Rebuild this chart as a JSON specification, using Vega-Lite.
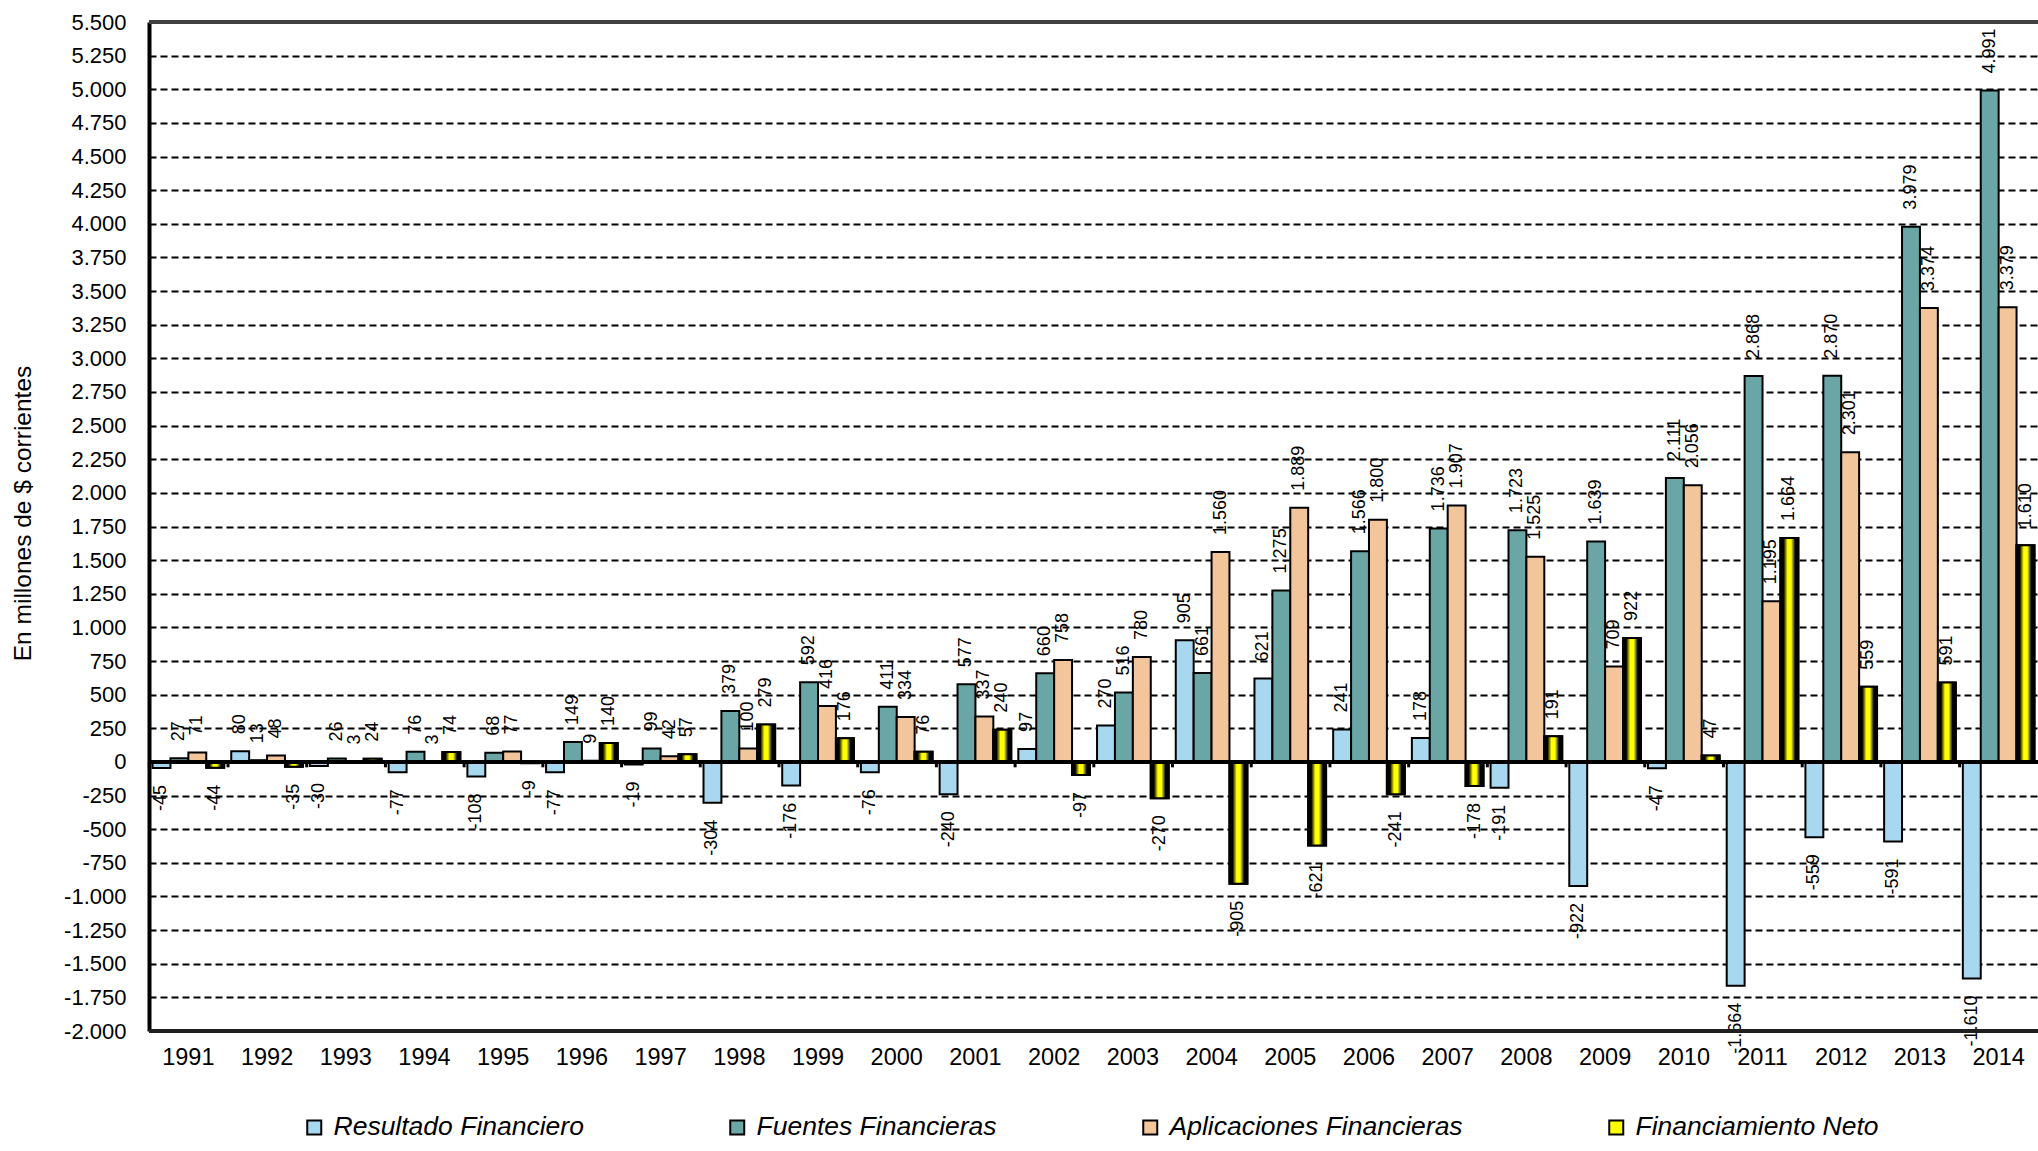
{
  "$schema": "https://vega.github.io/schema/vega-lite/v6.json",
  "width": 1889,
  "height": 1009,
  "autosize": {"type": "none"},
  "padding": {"left": 149, "top": 22, "right": 0, "bottom": 120},
  "background": "white",
  "config": {
    "locale": {"number": {"decimal": ",", "thousands": ".", "grouping": [3], "currency": ["$", ""], "minus": "-"}},
    "font": "Liberation Sans",
    "view": {"stroke": null},
    "axis": {"labelFont": "Liberation Sans", "titleFont": "Liberation Sans", "labelColor": "black", "titleColor": "black"},
    "axisY": {"labelFontSize": 22, "labelPadding": 23, "ticks": false, "domainColor": "black", "domainWidth": 4,
              "grid": true, "gridColor": "black", "gridDash": [7, 4], "gridWidth": 2, "gridOpacity": 1, "labelOverlap": false,
              "titleFontSize": 24.5, "titleFontWeight": "normal", "titleAngle": 270, "titleX": -126, "titleY": 491, "titleBaseline": "middle", "titleAlign": "center"}
  },
  "data": {"values": [
    {"year": "1991", "serie": "Resultado Financiero", "valor": -45},
    {"year": "1991", "serie": "Fuentes Financieras", "valor": 27},
    {"year": "1991", "serie": "Aplicaciones Financieras", "valor": 71},
    {"year": "1991", "serie": "Financiamiento Neto", "valor": -44},
    {"year": "1992", "serie": "Resultado Financiero", "valor": 80},
    {"year": "1992", "serie": "Fuentes Financieras", "valor": 13},
    {"year": "1992", "serie": "Aplicaciones Financieras", "valor": 48},
    {"year": "1992", "serie": "Financiamiento Neto", "valor": -35},
    {"year": "1993", "serie": "Resultado Financiero", "valor": -30},
    {"year": "1993", "serie": "Fuentes Financieras", "valor": 26},
    {"year": "1993", "serie": "Aplicaciones Financieras", "valor": 3},
    {"year": "1993", "serie": "Financiamiento Neto", "valor": 24},
    {"year": "1994", "serie": "Resultado Financiero", "valor": -77},
    {"year": "1994", "serie": "Fuentes Financieras", "valor": 76},
    {"year": "1994", "serie": "Aplicaciones Financieras", "valor": 3},
    {"year": "1994", "serie": "Financiamiento Neto", "valor": 74},
    {"year": "1995", "serie": "Resultado Financiero", "valor": -108},
    {"year": "1995", "serie": "Fuentes Financieras", "valor": 68},
    {"year": "1995", "serie": "Aplicaciones Financieras", "valor": 77},
    {"year": "1995", "serie": "Financiamiento Neto", "valor": -9},
    {"year": "1996", "serie": "Resultado Financiero", "valor": -77},
    {"year": "1996", "serie": "Fuentes Financieras", "valor": 149},
    {"year": "1996", "serie": "Aplicaciones Financieras", "valor": 9},
    {"year": "1996", "serie": "Financiamiento Neto", "valor": 140},
    {"year": "1997", "serie": "Resultado Financiero", "valor": -19},
    {"year": "1997", "serie": "Fuentes Financieras", "valor": 99},
    {"year": "1997", "serie": "Aplicaciones Financieras", "valor": 42},
    {"year": "1997", "serie": "Financiamiento Neto", "valor": 57},
    {"year": "1998", "serie": "Resultado Financiero", "valor": -304},
    {"year": "1998", "serie": "Fuentes Financieras", "valor": 379},
    {"year": "1998", "serie": "Aplicaciones Financieras", "valor": 100},
    {"year": "1998", "serie": "Financiamiento Neto", "valor": 279},
    {"year": "1999", "serie": "Resultado Financiero", "valor": -176},
    {"year": "1999", "serie": "Fuentes Financieras", "valor": 592},
    {"year": "1999", "serie": "Aplicaciones Financieras", "valor": 416},
    {"year": "1999", "serie": "Financiamiento Neto", "valor": 176},
    {"year": "2000", "serie": "Resultado Financiero", "valor": -76},
    {"year": "2000", "serie": "Fuentes Financieras", "valor": 411},
    {"year": "2000", "serie": "Aplicaciones Financieras", "valor": 334},
    {"year": "2000", "serie": "Financiamiento Neto", "valor": 76},
    {"year": "2001", "serie": "Resultado Financiero", "valor": -240},
    {"year": "2001", "serie": "Fuentes Financieras", "valor": 577},
    {"year": "2001", "serie": "Aplicaciones Financieras", "valor": 337},
    {"year": "2001", "serie": "Financiamiento Neto", "valor": 240},
    {"year": "2002", "serie": "Resultado Financiero", "valor": 97},
    {"year": "2002", "serie": "Fuentes Financieras", "valor": 660},
    {"year": "2002", "serie": "Aplicaciones Financieras", "valor": 758},
    {"year": "2002", "serie": "Financiamiento Neto", "valor": -97},
    {"year": "2003", "serie": "Resultado Financiero", "valor": 270},
    {"year": "2003", "serie": "Fuentes Financieras", "valor": 516},
    {"year": "2003", "serie": "Aplicaciones Financieras", "valor": 780},
    {"year": "2003", "serie": "Financiamiento Neto", "valor": -270},
    {"year": "2004", "serie": "Resultado Financiero", "valor": 905},
    {"year": "2004", "serie": "Fuentes Financieras", "valor": 661},
    {"year": "2004", "serie": "Aplicaciones Financieras", "valor": 1560},
    {"year": "2004", "serie": "Financiamiento Neto", "valor": -905},
    {"year": "2005", "serie": "Resultado Financiero", "valor": 621},
    {"year": "2005", "serie": "Fuentes Financieras", "valor": 1275},
    {"year": "2005", "serie": "Aplicaciones Financieras", "valor": 1889},
    {"year": "2005", "serie": "Financiamiento Neto", "valor": -621},
    {"year": "2006", "serie": "Resultado Financiero", "valor": 241},
    {"year": "2006", "serie": "Fuentes Financieras", "valor": 1566},
    {"year": "2006", "serie": "Aplicaciones Financieras", "valor": 1800},
    {"year": "2006", "serie": "Financiamiento Neto", "valor": -241},
    {"year": "2007", "serie": "Resultado Financiero", "valor": 178},
    {"year": "2007", "serie": "Fuentes Financieras", "valor": 1736},
    {"year": "2007", "serie": "Aplicaciones Financieras", "valor": 1907},
    {"year": "2007", "serie": "Financiamiento Neto", "valor": -178},
    {"year": "2008", "serie": "Resultado Financiero", "valor": -191},
    {"year": "2008", "serie": "Fuentes Financieras", "valor": 1723},
    {"year": "2008", "serie": "Aplicaciones Financieras", "valor": 1525},
    {"year": "2008", "serie": "Financiamiento Neto", "valor": 191},
    {"year": "2009", "serie": "Resultado Financiero", "valor": -922},
    {"year": "2009", "serie": "Fuentes Financieras", "valor": 1639},
    {"year": "2009", "serie": "Aplicaciones Financieras", "valor": 709},
    {"year": "2009", "serie": "Financiamiento Neto", "valor": 922},
    {"year": "2010", "serie": "Resultado Financiero", "valor": -47},
    {"year": "2010", "serie": "Fuentes Financieras", "valor": 2111},
    {"year": "2010", "serie": "Aplicaciones Financieras", "valor": 2056},
    {"year": "2010", "serie": "Financiamiento Neto", "valor": 47},
    {"year": "2011", "serie": "Resultado Financiero", "valor": -1664},
    {"year": "2011", "serie": "Fuentes Financieras", "valor": 2868},
    {"year": "2011", "serie": "Aplicaciones Financieras", "valor": 1195},
    {"year": "2011", "serie": "Financiamiento Neto", "valor": 1664},
    {"year": "2012", "serie": "Resultado Financiero", "valor": -559},
    {"year": "2012", "serie": "Fuentes Financieras", "valor": 2870},
    {"year": "2012", "serie": "Aplicaciones Financieras", "valor": 2301},
    {"year": "2012", "serie": "Financiamiento Neto", "valor": 559},
    {"year": "2013", "serie": "Resultado Financiero", "valor": -591},
    {"year": "2013", "serie": "Fuentes Financieras", "valor": 3979},
    {"year": "2013", "serie": "Aplicaciones Financieras", "valor": 3374},
    {"year": "2013", "serie": "Financiamiento Neto", "valor": 591},
    {"year": "2014", "serie": "Resultado Financiero", "valor": -1610},
    {"year": "2014", "serie": "Fuentes Financieras", "valor": 4991},
    {"year": "2014", "serie": "Aplicaciones Financieras", "valor": 3379},
    {"year": "2014", "serie": "Financiamiento Neto", "valor": 1610}
  ]},
  "layer": [
    {
      "mark": {"type": "bar", "stroke": "black", "strokeWidth": 2},
      "encoding": {
        "x": {"field": "year", "type": "nominal", "scale": {"paddingInner": 0.09, "paddingOuter": 0.045},
              "axis": {"orient": "bottom", "title": null, "labelAngle": 0, "labelFontSize": 23.5, "labelPadding": 14, "ticks": false, "domain": false, "grid": false}},
        "xOffset": {"field": "serie", "type": "nominal", "scale": {"domain": ["Resultado Financiero", "Fuentes Financieras", "Aplicaciones Financieras", "Financiamiento Neto"], "paddingInner": 0, "paddingOuter": 0}},
        "y": {"field": "valor", "type": "quantitative", "scale": {"domain": [-2000, 5500], "nice": false, "zero": false},
              "axis": {"title": "En millones de $ corrientes", "format": ",.0f", "values": [-2000,-1750,-1500,-1250,-1000,-750,-500,-250,0,250,500,750,1000,1250,1500,1750,2000,2250,2500,2750,3000,3250,3500,3750,4000,4250,4500,4750,5000,5250,5500]}},
        "color": {"field": "serie", "type": "nominal",
                  "scale": {"domain": ["Resultado Financiero", "Fuentes Financieras", "Aplicaciones Financieras", "Financiamiento Neto"], "range": ["#A8D8F0", "#6AA6A6", "#F3C59A", "#FFFF00"]},
                  "legend": {"orient": "none", "legendX": 152, "legendY": 1092, "direction": "horizontal", "title": null,
                             "labelFontSize": 26.5, "labelFontStyle": "italic", "labelFont": "Liberation Sans", "labelColor": "black",
                             "symbolType": "square", "symbolSize": 196, "symbolStrokeColor": "black", "symbolStrokeWidth": 2,
                             "columnPadding": 140, "labelOffset": 6, "labelLimit": 600}}
      }
    },
    {
      "transform": [{"filter": "datum.serie === 'Financiamiento Neto'"}],
      "mark": {"type": "bar", "stroke": "black", "strokeWidth": 2,
               "fill": {"gradient": "linear", "x1": 0, "y1": 0, "x2": 1, "y2": 0,
                        "stops": [{"offset": 0, "color": "#000000"}, {"offset": 0.18, "color": "#000000"}, {"offset": 0.4, "color": "#FFFF00"}, {"offset": 0.6, "color": "#FFFF00"}, {"offset": 0.82, "color": "#000000"}, {"offset": 1, "color": "#000000"}]}},
      "encoding": {
        "x": {"field": "year", "type": "nominal", "axis": {"title": null}},
        "xOffset": {"field": "serie", "type": "nominal"},
        "y": {"field": "valor", "type": "quantitative",
              "axis": {"title": "En millones de $ corrientes", "format": ",.0f", "values": [-2000,-1750,-1500,-1250,-1000,-750,-500,-250,0,250,500,750,1000,1250,1500,1750,2000,2250,2500,2750,3000,3250,3500,3750,4000,4250,4500,4750,5000,5250,5500]}}
      }
    },
    {
      "transform": [{"filter": "datum.valor >= 0"}],
      "mark": {"type": "text", "angle": 270, "align": "left", "baseline": "middle", "dx": 17, "fontSize": 18, "font": "Liberation Sans", "color": "black"},
      "encoding": {
        "x": {"field": "year", "type": "nominal", "axis": {"title": null}},
        "xOffset": {"field": "serie", "type": "nominal"},
        "y": {"field": "valor", "type": "quantitative",
              "axis": {"title": "En millones de $ corrientes", "format": ",.0f", "values": [-2000,-1750,-1500,-1250,-1000,-750,-500,-250,0,250,500,750,1000,1250,1500,1750,2000,2250,2500,2750,3000,3250,3500,3750,4000,4250,4500,4750,5000,5250,5500]}},
        "text": {"field": "valor", "type": "quantitative", "format": ",.0f"}
      }
    },
    {
      "transform": [{"filter": "datum.valor < 0"}],
      "mark": {"type": "text", "angle": 270, "align": "right", "baseline": "middle", "dx": -17, "fontSize": 18, "font": "Liberation Sans", "color": "black"},
      "encoding": {
        "x": {"field": "year", "type": "nominal", "axis": {"title": null}},
        "xOffset": {"field": "serie", "type": "nominal"},
        "y": {"field": "valor", "type": "quantitative",
              "axis": {"title": "En millones de $ corrientes", "format": ",.0f", "values": [-2000,-1750,-1500,-1250,-1000,-750,-500,-250,0,250,500,750,1000,1250,1500,1750,2000,2250,2500,2750,3000,3250,3500,3750,4000,4250,4500,4750,5000,5250,5500]}},
        "text": {"field": "valor", "type": "quantitative", "format": ",.0f"}
      }
    },
    {
      "transform": [{"filter": "datum.serie === 'Resultado Financiero'"}],
      "mark": {"type": "rule", "stroke": "black", "strokeWidth": 3},
      "encoding": {
        "x": {"field": "year", "type": "nominal", "bandPosition": -0.045, "axis": {"title": null}},
        "y": {"datum": 0,
              "axis": {"title": "En millones de $ corrientes", "format": ",.0f", "values": [-2000,-1750,-1500,-1250,-1000,-750,-500,-250,0,250,500,750,1000,1250,1500,1750,2000,2250,2500,2750,3000,3250,3500,3750,4000,4250,4500,4750,5000,5250,5500]}},
        "y2": {"datum": -40}
      }
    },
    {
      "mark": {"type": "rule", "stroke": "black", "strokeWidth": 4},
      "encoding": {"y": {"datum": 0,
              "axis": {"title": "En millones de $ corrientes", "format": ",.0f", "values": [-2000,-1750,-1500,-1250,-1000,-750,-500,-250,0,250,500,750,1000,1250,1500,1750,2000,2250,2500,2750,3000,3250,3500,3750,4000,4250,4500,4750,5000,5250,5500]}}}
    },
    {
      "mark": {"type": "rule", "stroke": "#404040", "strokeWidth": 3},
      "encoding": {"y": {"datum": 5500,
              "axis": {"title": "En millones de $ corrientes", "format": ",.0f", "values": [-2000,-1750,-1500,-1250,-1000,-750,-500,-250,0,250,500,750,1000,1250,1500,1750,2000,2250,2500,2750,3000,3250,3500,3750,4000,4250,4500,4750,5000,5250,5500]}}}
    },
    {
      "mark": {"type": "rule", "stroke": "#202020", "strokeWidth": 3},
      "encoding": {"y": {"datum": -2000,
              "axis": {"title": "En millones de $ corrientes", "format": ",.0f", "values": [-2000,-1750,-1500,-1250,-1000,-750,-500,-250,0,250,500,750,1000,1250,1500,1750,2000,2250,2500,2750,3000,3250,3500,3750,4000,4250,4500,4750,5000,5250,5500]}}}
    }
  ]
}
